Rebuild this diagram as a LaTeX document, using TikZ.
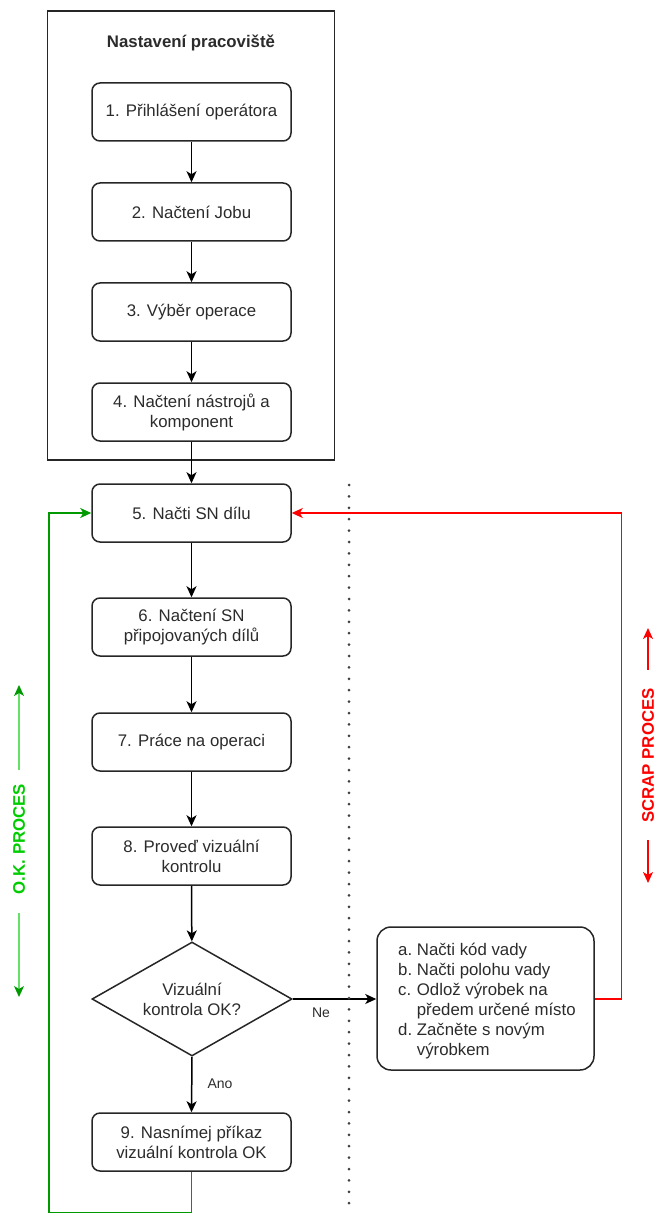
\documentclass[tikz,border=0pt]{standalone}
\usepackage{fontspec}
\setmainfont{Liberation Sans}
\usetikzlibrary{shapes.geometric,arrows.meta}
\definecolor{txt}{HTML}{2B2B2B}
\definecolor{okgreen}{HTML}{009900}
\definecolor{oklabel}{HTML}{00CC00}
\definecolor{scrapred}{HTML}{FF0000}
\tikzset{
  tip/.style={-{Stealth[length=11pt,width=10pt,inset=3pt]}},
  stepbox/.style={draw=black!85, line width=1.5pt, rounded corners=8pt, minimum width=199pt, minimum height=58pt, align=center, font=\fontsize{16.8}{20}\selectfont, text=txt, inner sep=0pt},
  decision/.style={draw=black!85, line width=1.5pt, diamond, aspect=1.754, minimum width=200pt, minimum height=114pt, align=center, font=\fontsize{16.8}{20}\selectfont, text=txt, inner sep=0pt},
  flow/.style={line width=1.5pt, tip},
  edgelabel/.style={font=\fontsize{14}{16}\selectfont, text=txt},
  sidelabel/.style={font=\bfseries\fontsize{16.8}{20}\selectfont, rotate=90},
  sidearrow/.style={line width=1.5pt}
}
\begin{document}
\begin{tikzpicture}[x=1pt,y=-1pt]
\useasboundingbox (0,0) rectangle (655,1214);
% outer group
\node[draw=black!85, line width=1.5pt, minimum width=287pt, minimum height=449pt, inner sep=0pt] (group) at (191,235.5) {};
\node[font=\bfseries\fontsize{16.8}{20}\selectfont, text=txt] (title) at (191,43) {Nastavení pracoviště};
% steps
\node[stepbox] (b1) at (191.5,112) {1. Přihlášení operátora};
\node[stepbox] (b2) at (191.5,212) {2. Načtení Jobu};
\node[stepbox] (b3) at (191.5,312) {3. Výběr operace};
\node[stepbox] (b4) at (191.5,412) {4. Načtení nástrojů a\\komponent};
\node[stepbox] (b5) at (191.5,513) {5. Načti SN dílu};
\node[stepbox] (b6) at (191.5,627) {6. Načtení SN\\připojovaných dílů};
\node[stepbox] (b7) at (191.5,742) {7. Práce na operaci};
\node[stepbox] (b8) at (191.5,856) {8. Proveď vizuální\\kontrolu};
\node[decision] (d) at (192,999) {Vizuální\\kontrola OK?};
\node[stepbox] (b9) at (191.5,1142) {9. Nasnímej příkaz\\vizuální kontrola OK};
\node[draw=black!85, line width=1.5pt, rounded corners=14pt, minimum width=217pt, minimum height=143pt, inner sep=0pt] (scrap) at (485.5,998.5) {};
\node[anchor=north west, font=\fontsize{16.8}{20}\selectfont, text=txt, inner sep=0pt, align=left] (scraptext) at (398,941)
 {\begin{tabular}{@{}l@{\ }l@{}}
 a. & Načti kód vady\\
 b. & Načti polohu vady\\
 c. & Odlož výrobek na\\
    & předem určené místo\\
 d. & Začněte s novým\\
    & výrobkem
 \end{tabular}};
% main flow
\draw[flow] (b1) -- (b2);
\draw[flow] (b2) -- (b3);
\draw[flow] (b3) -- (b4);
\draw[flow] (b4) -- (b5);
\draw[flow] (b5) -- (b6);
\draw[flow] (b6) -- (b7);
\draw[flow] (b7) -- (b8);
\draw[flow] (b8) -- (d);
\draw[flow] (d.south) -- (b9.north);
\draw[flow] (d.east) -- (scrap.west |- d.east);
\node[edgelabel] (ne) at (321,1013) {Ne};
\node[edgelabel] (ano) at (220,1084) {Ano};
% loops
\draw[line width=1.5pt, draw=scrapred, tip] (scrap.east |- d.east) -- (621.5,999) -- (621.5,513) -- (b5.east);
\draw[line width=1.5pt, draw=okgreen, tip] (b9.south) -- (191.5,1212.5) -- (49,1212.5) -- (49,513) -- (b5.west);
% divider
\coordinate (dtop) at (349,485);
\coordinate (dbot) at (349,1214);
\draw[line width=3pt, line cap=round, dash pattern=on 0pt off 11.4pt, draw=black!75] (dtop) -- (dbot);
% side labels
\node[sidelabel, text=oklabel] (oklab) at (19,839) {O.K. PROCES};
\coordinate (okup1) at (19,770); \coordinate (okup2) at (19,685);
\coordinate (okdn1) at (19,913); \coordinate (okdn2) at (19,997);
\draw[sidearrow, draw=oklabel!60, -{Stealth[length=11pt,width=10pt,inset=3pt,color=okgreen]}] (okup1) -- (okup2);
\draw[sidearrow, draw=oklabel!60, -{Stealth[length=11pt,width=10pt,inset=3pt,color=okgreen]}] (okdn1) -- (okdn2);
\node[sidelabel, text=scrapred] (scraplab) at (648,755.5) {SCRAP PROCES};
\coordinate (scup1) at (648,670); \coordinate (scup2) at (648,628);
\coordinate (scdn1) at (648,840); \coordinate (scdn2) at (648,883);
\draw[sidearrow, draw=scrapred, tip] (scup1) -- (scup2);
\draw[sidearrow, draw=scrapred, tip] (scdn1) -- (scdn2);
\end{tikzpicture}
\end{document}
